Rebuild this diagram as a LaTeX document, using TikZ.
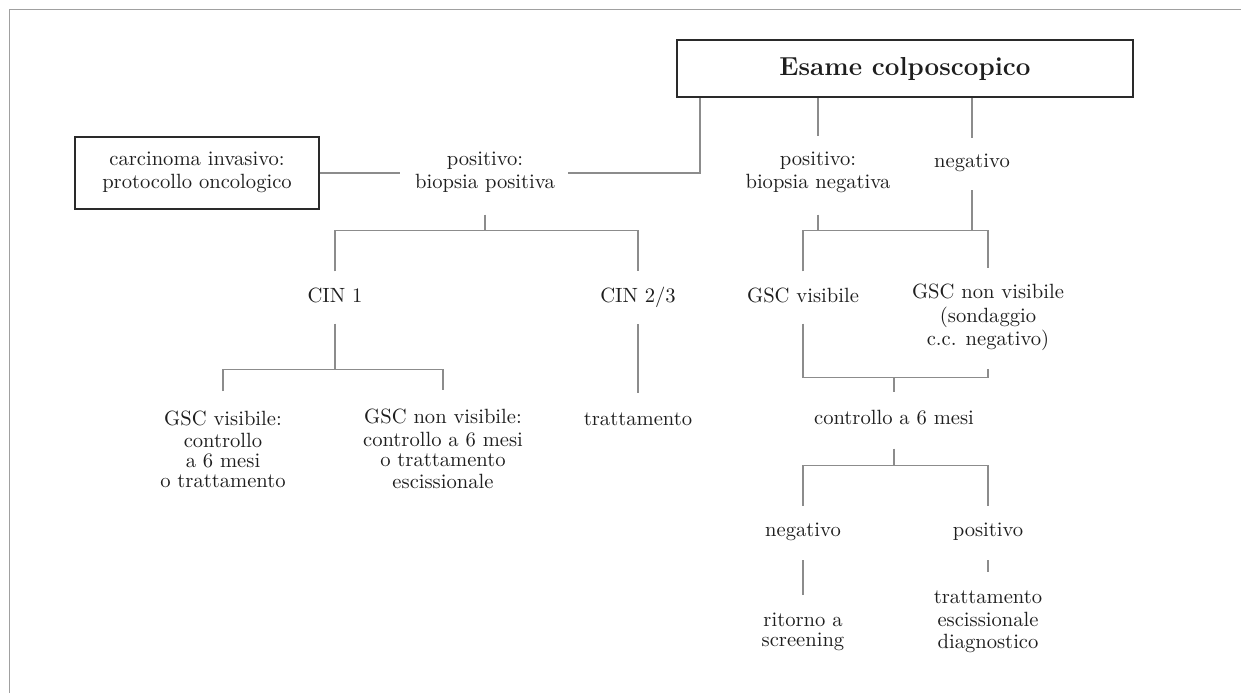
\documentclass[tikz,border=0pt]{standalone}
\usetikzlibrary{calc}
\definecolor{ink}{HTML}{1E1E1E}
\definecolor{boxline}{HTML}{2A2A2A}
\definecolor{linkgray}{HTML}{8C8C8C}
\definecolor{framegray}{HTML}{A0A0A0}
% strut: every text line is exactly 10pt tall (7pt above, 3pt below the baseline)
\newcommand\st{\rule[-3pt]{0pt}{10pt}}
\begin{document}
\begin{tikzpicture}[x=0.5pt,y=-0.5pt,
  every node/.style={inner sep=0pt, font=\fontsize{10.3}{10}\selectfont, align=center, text=ink},
  box/.style={draw=boxline, line width=1pt},
  link/.style={draw=linkgray, line width=0.65pt},
  frame/.style={draw=framegray, line width=0.75pt}]
\useasboundingbox (0,0) rectangle (1241,693);

% page frame (top and left edges)
\draw[frame] (9.5,693) -- (9.5,9.5) -- (1241,9.5);

% nodes
\node[box, minimum width=228pt, minimum height=28.5pt, font=\fontsize{13}{13}\selectfont\bfseries] (esame) at (905,68.5) {Esame colposcopico};
\node[box, minimum width=122pt, minimum height=36pt] (carc) at (197,173) {\st carcinoma invasivo:\\\st protocollo oncologico};
\node (pp) at (485,173) {\st positivo:\\\st biopsia positiva};
\node (pn) at (818,173) {\st positivo:\\\st biopsia negativa};
\node (neg) at (972,163) {\st negativo};
\node (cin1) at (335,298) {\st CIN 1};
\node (cin23) at (638,298) {\st CIN 2/3};
\node (gv) at (803,298) {\st GSC visibile};
\node (gnv) at (988,318) {\st GSC non visibile\\\st (sondaggio\\\st c.c. negativo)};
\node (gv1) at (223,452) {\st GSC visibile:\\\st controllo\\\st a 6 mesi\\\st o trattamento};
\node (gnv1) at (443,452) {\st GSC non visibile:\\\st controllo a 6 mesi\\\st o trattamento\\\st escissionale};
\node (tr) at (638,421) {\st trattamento};
\node (ctrl) at (894,420) {\st controllo a 6 mesi};
\node (neg2) at (803,532) {\st negativo};
\node (pos2) at (988,532) {\st positivo};
\node (rit) at (803,632) {\st ritorno a\\\st screening};
\node (tre) at (988,622) {\st trattamento\\\st escissionale\\\st diagnostico};

% junction points
\coordinate (e1) at ([xshift=12pt]esame.south west);
\coordinate (j1) at ($(pp.south)+(0,36)$);
\coordinate (j2) at ($(pn.south)+(0,36)$);
\coordinate (j3) at ($(cin1.south)+(0,61)$);
\coordinate (j4) at ($(ctrl.north)+(0,-32)$);
\coordinate (j5) at ($(ctrl.south)+(0,35)$);

% connectors
\draw[link, shorten >=6.5pt] (e1) |- (pp.east);
\draw[link, shorten >=7.5pt] (carc.east) -- (pp.west);
\draw[link, shorten >=7.5pt] (esame.south -| pn) -- (pn.north);
\draw[link, shorten >=7.5pt] (esame.south -| neg) -- (neg.north);

\draw[link, shorten <=10pt] (pp.south) -- (j1);
\draw[link, shorten <=8pt, shorten >=8pt] (cin1.north) |- (j1) -| (cin23.north);

\draw[link, shorten <=10pt] (pn.south) -- (j2);
\draw[link, shorten <=8.5pt] (neg.south) -- (neg.south |- j2);
\draw[link, shorten <=8pt, shorten >=8pt] (gv.north) |- (j2) -| (gnv.north);

\draw[link, shorten <=7.5pt] (cin1.south) -- (j3);
\draw[link, shorten <=9.5pt, shorten >=9.5pt] (gv1.north) |- (j3) -| (gnv1.north);
\draw[link, shorten <=7.5pt, shorten >=9pt] (cin23.south) -- (tr.north);

\draw[link, shorten <=7.5pt, shorten >=8.5pt] (gv.south) |- (j4) -| (gnv.south);
\draw[link, shorten >=8.5pt] (j4) -- (ctrl.north);

\draw[link, shorten <=9pt] (ctrl.south) -- (j5);
\draw[link, shorten <=8pt, shorten >=8pt] (neg2.north) |- (j5) -| (pos2.north);
\draw[link, shorten <=9pt, shorten >=8.5pt] (neg2.south) -- (rit.north);
\draw[link, shorten <=9pt, shorten >=8.5pt] (pos2.south) -- (tre.north);
\end{tikzpicture}
\end{document}
